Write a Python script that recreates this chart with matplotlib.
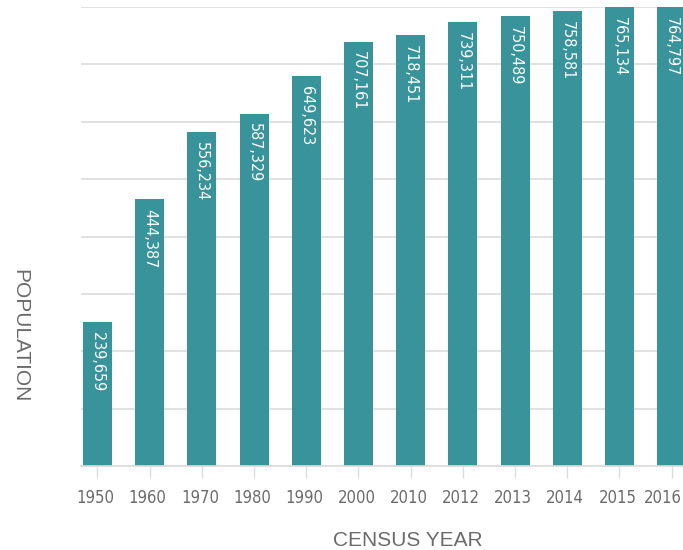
import matplotlib
matplotlib.use("Agg")
import matplotlib.pyplot as plt
import matplotlib.transforms as mtransforms
import numpy as np

years = ["1950", "1960", "1970", "1980", "1990", "2000", "2010", "2012", "2013", "2014", "2015", "2016"]
population = [239659, 444387, 556234, 587329, 649623, 707161, 718451, 739311, 750489, 758581, 765134, 764797]

W, H = 683, 550
fig = plt.figure(figsize=(W / 100, H / 100), dpi=100)
ax_left, ax_right = 81, 683
ax_top, ax_bottom = 7, 466
ax = fig.add_axes([ax_left / W, 1 - ax_bottom / H, (ax_right - ax_left) / W, (ax_bottom - ax_top) / H])

bar_color = '#38939a'
grid_color = '#dcdcdc'
text_color = '#6b6b6b'

x = np.arange(len(years))
ax.bar(x, population, width=0.556, color=bar_color, zorder=2)

ymax = max(population)
ax.set_ylim(0, ymax)
ax.set_yticks(np.linspace(0, ymax, 9))
ax.set_yticklabels([])
ax.tick_params(axis='y', length=0)
ax.grid(axis='y', color=grid_color, linewidth=1.2, zorder=0)
ax.set_axisbelow(True)

ax.set_xlim(-0.316, 11.217)
ax.set_xticks(x)
ax.set_xticklabels(years)
ax.tick_params(axis='x', length=8.5, width=1, color=grid_color, pad=8)
labels = ax.get_xticklabels()
for i, t in enumerate(labels):
    t.set_fontfamily('DejaVu Sans')
    t.set_fontstretch('condensed')
    t.set_fontsize(12)
    t.set_color(text_color)
    shift = -9 if i == len(labels) - 1 else -2
    t.set_transform(t.get_transform() + mtransforms.ScaledTranslation(shift / 100, 0, fig.dpi_scale_trans))

for s in ['top', 'right', 'left']:
    ax.spines[s].set_visible(False)
ax.spines['bottom'].set_color(grid_color)
ax.spines['bottom'].set_linewidth(1.2)

for xi, v in zip(x, population):
    ax.annotate(f"{v:,}", xy=(xi, v), xytext=(0, -7), textcoords='offset points',
                rotation=-90, ha='center', va='top', color='white',
                fontsize=11.5, fontfamily='DejaVu Sans', fontstretch='condensed', zorder=3)

fig.text(408 / W, 1 - 540 / H, "CENSUS YEAR", ha='center', va='center',
         fontsize=15, color=text_color, fontfamily=['Liberation Sans', 'DejaVu Sans'])
fig.text(20 / W, 1 - 336 / H, "POPULATION", ha='center', va='center', rotation=270,
         fontsize=15, color=text_color, fontfamily=['Liberation Sans', 'DejaVu Sans'])

fig.savefig("out.png", dpi=100)
